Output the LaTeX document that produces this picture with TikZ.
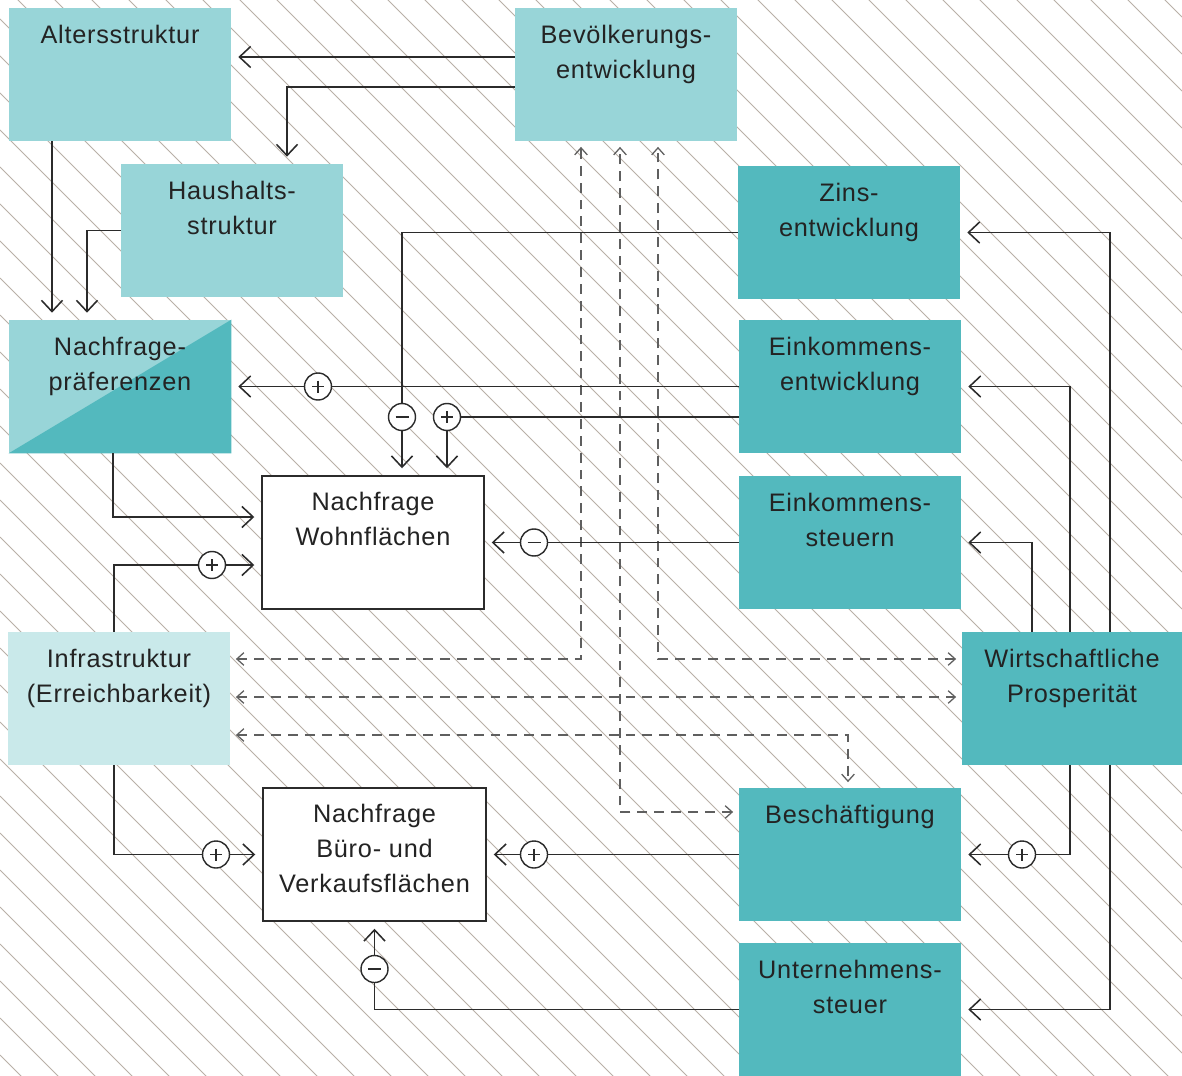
\documentclass[tikz,border=0pt]{standalone}
\usepackage{fontspec}
\setmainfont{Liberation Sans}[LetterSpace=3]
\usetikzlibrary{arrows.meta,positioning}

\definecolor{lightteal}{RGB}{152,213,216}
\definecolor{darkteal}{RGB}{83,185,190}
\definecolor{paleteal}{RGB}{201,233,234}
\definecolor{hatchgray}{RGB}{185,176,167}
\definecolor{linegray}{RGB}{43,43,43}
\definecolor{dashgray}{RGB}{95,95,95}
\definecolor{textgray}{RGB}{35,35,35}

\tikzset{
  box/.style={rectangle, minimum width=222*0.025cm, minimum height=133*0.025cm, inner sep=0},
  lightbox/.style={box, fill=lightteal},
  darkbox/.style={box, fill=darkteal},
  palebox/.style={box, fill=paleteal},
  whitebox/.style={box, fill=white, draw=linegray, line width=1pt},
  txt/.style={font=\fontsize{18}{24.8}\selectfont, align=center, inner sep=0, text=textgray},
  conn/.style={draw=linegray, line width=1.1pt},
  arr/.style={conn, -{Straight Barb[length=8pt,width=15pt]}, shorten >=5pt},
  dasharr/.style={draw=dashgray, line width=0.9pt, dash pattern=on 7pt off 5pt,
    {Straight Barb[length=5pt,width=9pt]}-{Straight Barb[length=5pt,width=9pt]},
    shorten >=4pt, shorten <=4pt},
  signcirc/.style={circle, draw=linegray, fill=white, line width=1pt, minimum size=27*0.025cm, inner sep=0},
  pluscirc/.style={signcirc, path picture={
    \draw[linegray, line width=1.1pt] (path picture bounding box.center) ++(-6,0) -- ++(12,0);
    \draw[linegray, line width=1.1pt] (path picture bounding box.center) ++(0,-6) -- ++(0,12);}},
  minuscirc/.style={signcirc, path picture={
    \draw[linegray, line width=1.2pt] (path picture bounding box.center) ++(-6.5,0) -- ++(13,0);}},
  hatchline/.style={draw=hatchgray, line width=0.6pt}
}

\begin{document}
\begin{tikzpicture}[x=0.025cm, y=-0.025cm]
\useasboundingbox (0,0) rectangle (1182,1076);
\fill[white] (0,0) rectangle (1182,1076);
% hatched background
\begin{scope}
  \clip (0,0) rectangle (1182,1076);
  \foreach \k in {-33,...,29}
    \draw[hatchline] (0,19+37*\k) -- (1182,1201+37*\k);
\end{scope}

% boxes
\node[lightbox] (alter) at (120,74.5) {};
\node[lightbox] (bev) at (626,74.5) {};
\node[lightbox] (haus) at (232,230.5) {};
\node[darkbox] (zins) at (849,232.5) {};
\node[darkbox] (einkE) at (850,386.5) {};
\node[lightbox] (praef) at (120,386.5) {};
\fill[darkteal] (praef.south west) -- (praef.north east) -- (praef.south east) -- cycle;
\node[whitebox] (wohn) at (373,542.5) {};
\node[darkbox] (einkS) at (850,542.5) {};
\node[palebox] (infra) at (119,698.5) {};
\node[darkbox, minimum width=220*0.025cm] (wirt) at (1072,698.5) {};
\node[whitebox, minimum width=223*0.025cm] (buero) at (374.5,854.5) {};
\node[darkbox] (besch) at (850,854.5) {};
\node[darkbox] (untern) at (850,1009.5) {};

% dashed links
\draw[dasharr] (infra.east |- 0,659) -| (bev.south -| 581,0);
\draw[dasharr] (wirt.west |- 0,659) -| (bev.south -| 658,0);
\draw[dasharr] (besch.west |- 0,812) -| (bev.south -| 620,0);
\draw[dasharr] (infra.east |- 0,697) -- (wirt.west |- 0,697);
\draw[dasharr] (infra.east |- 0,735) -| (besch.north -| 848,0);

% sign circles
\node[minuscirc] (m1) at (402,417) {};
\node[pluscirc] (p1) at (318,386.5) {};
\node[pluscirc] (p2) at (447,417) {};
\node[pluscirc] (p3) at (212,565) {};
\node[minuscirc] (m2) at (534,542.5) {};
\node[pluscirc] (p4) at (216,854.5) {};
\node[pluscirc] (p5) at (534,854.5) {};
\node[minuscirc] (m3) at (buero.south |- 0,969) {};
\node[pluscirc] (p6) at (1022,854.5) {};

% solid links
\draw[arr] (bev.west |- 0,57) -- (alter.east |- 0,57);
\draw[arr] (bev.west |- 0,87) -| (haus.north -| 287,0);
\draw[arr] (alter.south -| 52,0) -- (praef.north -| 52,0);
\draw[arr] (haus.west) -| (praef.north -| 87,0);
\draw[conn] (zins.west) -| (m1.north);
\draw[arr] (m1.south) -- (m1.south |- wohn.north);
\draw[conn] (einkE.west) -- (p1.east);
\draw[arr] (p1.west) -- (praef.east);
\draw[conn] (einkE.west |- p2) -- (p2.east);
\draw[arr] (p2.south) -- (p2.south |- wohn.north);
\draw[arr] (praef.south -| 113,0) |- (wohn.west |- 0,517);
\draw[conn] (infra.north -| 114,0) |- (p3.west);
\draw[arr] (p3.east) -- (wohn.west |- p3);
\draw[conn] (einkS.west) -- (m2.east);
\draw[arr] (m2.west) -- (wohn.east |- m2);
\draw[conn] (infra.south -| 114,0) |- (p4.west);
\draw[arr] (p4.east) -- (buero.west |- p4);
\draw[conn] (besch.west) -- (p5.east);
\draw[arr] (p5.west) -- (buero.east |- p5);
\draw[conn] (untern.west) -| (m3.south);
\draw[arr] (m3.north) -- (buero.south);
\draw[arr] (wirt.north -| 1110,0) |- (zins.east);
\draw[arr] (wirt.north -| 1070,0) |- (einkE.east);
\draw[arr] (wirt.north -| 1032,0) |- (einkS.east);
\draw[conn] (wirt.south -| 1070,0) |- (p6.east);
\draw[arr] (p6.west) -- (besch.east);
\draw[arr] (wirt.south -| 1110,0) |- (untern.east);

% labels
\node[txt, below=12pt of alter.north] (alterT) {Altersstruktur};
\node[txt, below=12pt of bev.north] (bevT) {Bevölkerungs-\\entwicklung};
\node[txt, below=12pt of haus.north] (hausT) {Haushalts-\\struktur};
\node[txt, below=12pt of zins.north] (zinsT) {Zins-\\entwicklung};
\node[txt, below=12pt of einkE.north] (einkET) {Einkommens-\\entwicklung};
\node[txt, below=12pt of praef.north] (praefT) {Nachfrage-\\präferenzen};
\node[txt, below=12pt of wohn.north] (wohnT) {Nachfrage\\Wohnflächen};
\node[txt, below=12pt of einkS.north] (einkST) {Einkommens-\\steuern};
\node[txt, below=12pt of infra.north] (infraT) {Infrastruktur\\(Erreichbarkeit)};
\node[txt, below=12pt of wirt.north] (wirtT) {Wirtschaftliche\\Prosperität};
\node[txt, below=12pt of buero.north] (bueroT) {Nachfrage\\Büro- und\\Verkaufsflächen};
\node[txt, below=12pt of besch.north] (beschT) {Beschäftigung};
\node[txt, below=12pt of untern.north] (unternT) {Unternehmens-\\steuer};
\end{tikzpicture}
\end{document}
